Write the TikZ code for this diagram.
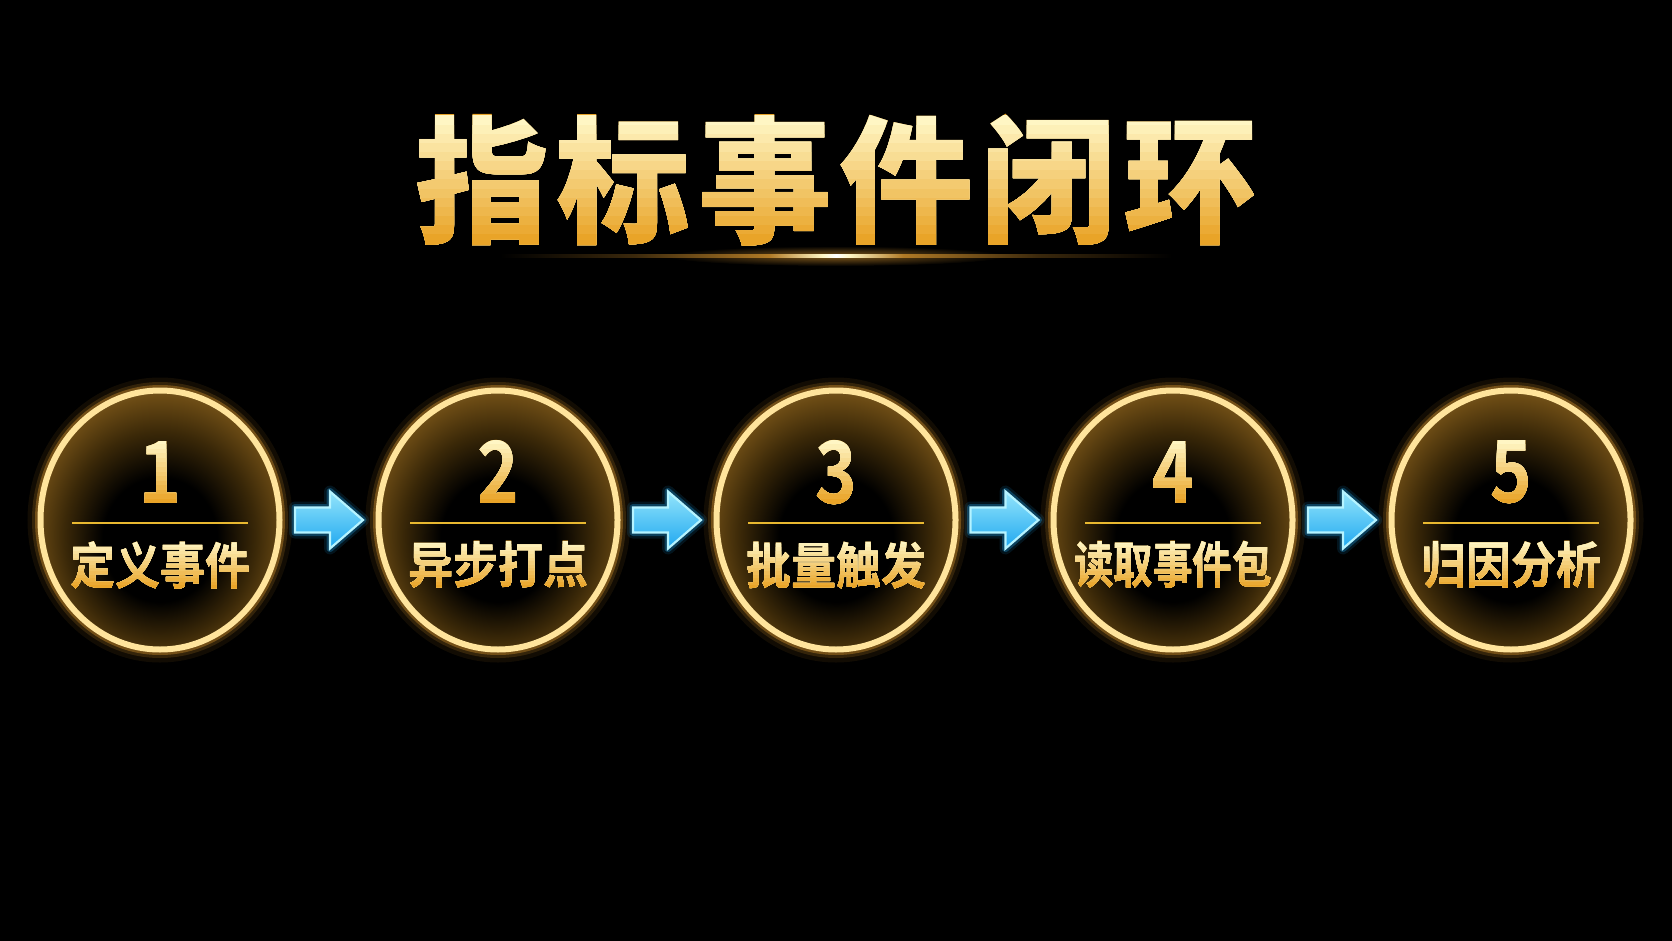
\documentclass[tikz,border=0pt]{standalone}
\usepackage{fontspec}
\newfontfamily\cjk{Noto Sans CJK SC Bold}
\newfontfamily\cjkh{Noto Sans CJK SC Black}
\usetikzlibrary{shapes.geometric}
\definecolor{goldtop}{HTML}{FFF6C4}
\definecolor{goldbot}{HTML}{E9A428}
\definecolor{ringc}{HTML}{FFE49C}
\definecolor{glowc}{HTML}{EBA232}
\definecolor{innerc}{HTML}{6A4A14}
\definecolor{innerd}{HTML}{3A2808}
\definecolor{linec}{HTML}{E8B830}
\definecolor{cyanf}{HTML}{45C3F2}
\definecolor{cyanl}{HTML}{B5F3FF}
\definecolor{cyang}{HTML}{1FA8F0}
\pgfdeclareradialshading{ringinner}{\pgfpoint{0bp}{-5bp}}{color(0bp)=(black); color(12bp)=(black); color(20bp)=(innerd); color(26bp)=(innerc); color(30bp)=(innerc!80!ringc); color(50bp)=(innerc!80!ringc)}
\pgfdeclarehorizontalshading{glowline}{100bp}{color(0bp)=(black); color(25bp)=(black); color(35bp)=(glowc!25!black); color(45bp)=(glowc!75!black); color(49bp)=(goldtop); color(50bp)=(white); color(51bp)=(goldtop); color(55bp)=(glowc!75!black); color(65bp)=(glowc!25!black); color(75bp)=(black); color(100bp)=(black)}
\newcommand\titlefont{\cjkh\fontsize{138}{138}\selectfont}
\newcommand\numfont{\cjk\fontsize{86}{86}\selectfont}
\newcommand\labfont{\cjk\fontsize{50}{50}\selectfont}
\newcommand\goldtxt[4]{%
  \node[txt, text=goldbot] (#1) at (#2) {#4};
  \foreach \i in {0,...,13}{
    \pgfmathsetmacro\mixv{100-\i*100/13}
    \begin{scope}[shift={(#2)}]
      \clip (-700,{-#3-1+\i*(2*#3+2)/14}) rectangle (700,{#3+20});
      \node[txt, text=goldtop!\mixv!goldbot] (#1-\i) at (0,0) {#4};
    \end{scope}
  }%
}
\newcommand\blockarrow[1]{%
  \begin{scope}[shift={(#1)}]
    \path[blockarr] (-34,-12.5) -- (1,-12.5) -- (1,-28.5) -- (34,0) -- (1,28.5) -- (1,12.5) -- (-34,12.5) -- cycle;
  \end{scope}%
}
\tikzset{
  txt/.style={inner sep=0pt, anchor=center},
  ring/.style={ellipse, minimum width=239, minimum height=259, inner sep=0pt,
    preaction={draw=glowc, line width=26, draw opacity=0.08},
    preaction={draw=glowc, line width=17, draw opacity=0.16},
    preaction={draw=glowc, line width=11, draw opacity=0.35},
    preaction={shade, shading=ringinner},
    draw=ringc, line width=6},
  divider/.style={draw=linec, line width=2.2},
  blockarr/.style={
    preaction={draw=cyang, line width=12, draw opacity=0.12, line join=round},
    preaction={draw=cyang, line width=7, draw opacity=0.3, line join=round},
    top color=cyanl!70!cyanf, bottom color=cyang,
    draw=cyanl, line width=2.2, line join=miter}
}
\begin{document}
\begin{tikzpicture}[x=1pt,y=-1pt]
\fill[black] (0,0) rectangle (1672,941);
\useasboundingbox (0,0) rectangle (1672,941);

% title
\goldtxt{title}{836,180}{63}{\titlefont\scalebox{0.97}[1]{指\hspace{8pt}标\hspace{8pt}事\hspace{8pt}件\hspace{8pt}闭\hspace{8pt}环}}
\shade[inner color=glowc!55!black, outer color=black] (836,256) ellipse [x radius=170, y radius=10];
\shade[shading=glowline] (500,254.5) rectangle (1172,257.5);

% circles
\node[ring] (c1) at (160,520) {};
\node[ring] (c2) at (498,520) {};
\node[ring] (c3) at (836,520) {};
\node[ring] (c4) at (1173,520) {};
\node[ring] (c5) at (1511,520) {};

\foreach \c in {c1,c2,c3,c4,c5}{
  \draw[divider] ([shift={(-88,3)}]\c.center) -- ([shift={(88,3)}]\c.center);
}

\goldtxt{n1}{160,472}{31}{\numfont\scalebox{0.82}[1]{1}}
\goldtxt{n2}{498,472}{31}{\numfont\scalebox{0.82}[1]{2}}
\goldtxt{n3}{836,472}{31}{\numfont\scalebox{0.82}[1]{3}}
\goldtxt{n4}{1173,472}{31}{\numfont\scalebox{0.82}[1]{4}}
\goldtxt{n5}{1511,472}{31}{\numfont\scalebox{0.82}[1]{5}}

\goldtxt{l1}{160,565}{23}{\labfont\scalebox{0.9}[1]{定义事件}}
\goldtxt{l2}{498,565}{23}{\labfont\scalebox{0.9}[1]{异步打点}}
\goldtxt{l3}{836,565}{23}{\labfont\scalebox{0.9}[1]{批量触发}}
\goldtxt{l4}{1173,565}{23}{\labfont\scalebox{0.79}[1]{读取事件包}}
\goldtxt{l5}{1511,565}{23}{\labfont\scalebox{0.9}[1]{归因分析}}

% arrows
\path (c1.east) -- (c2.west) coordinate[midway] (a1);
\path (c2.east) -- (c3.west) coordinate[midway] (a2);
\path (c3.east) -- (c4.west) coordinate[midway] (a3);
\path (c4.east) -- (c5.west) coordinate[midway] (a4);
\blockarrow{a1}
\blockarrow{a2}
\blockarrow{a3}
\blockarrow{a4}
\end{tikzpicture}
\end{document}
